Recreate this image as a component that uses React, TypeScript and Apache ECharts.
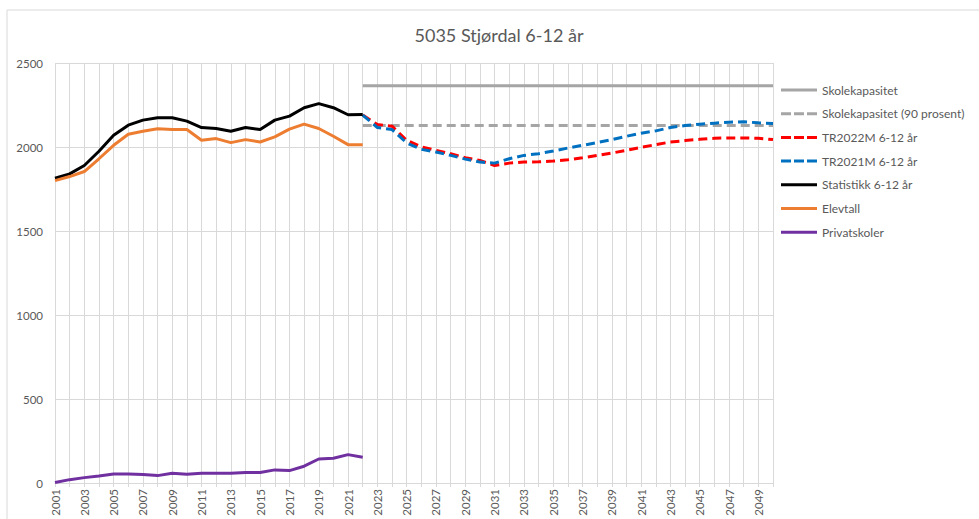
import React, { useEffect, useRef } from "react";
import * as echarts from "echarts";

const years = [
  "2001", "2002", "2003", "2004", "2005", "2006", "2007", "2008", "2009", "2010",
  "2011", "2012", "2013", "2014", "2015", "2016", "2017", "2018", "2019", "2020",
  "2021", "2022", "2023", "2024", "2025", "2026", "2027", "2028", "2029", "2030",
  "2031", "2032", "2033", "2034", "2035", "2036", "2037", "2038", "2039", "2040",
  "2041", "2042", "2043", "2044", "2045", "2046", "2047", "2048", "2049", "2050",
];

const histYears = years.slice(0, 22); // 2001-2022
const projYears = years.slice(21); // 2022-2050

const statistikk = [1814, 1840, 1890, 1975, 2070, 2130, 2160, 2174, 2174, 2154, 2116, 2110, 2094, 2116, 2104, 2160, 2184, 2234, 2258, 2234, 2192, 2194];
const elevtall = [1800, 1824, 1854, 1930, 2010, 2076, 2094, 2108, 2104, 2104, 2040, 2050, 2026, 2044, 2030, 2060, 2106, 2136, 2110, 2064, 2014, 2014];
const privatskoler = [3, 20, 32, 42, 54, 54, 50, 44, 58, 52, 58, 58, 58, 62, 62, 78, 74, 100, 143, 147, 169, 153];

const tr2022 = [2190, 2134, 2124, 2040, 2000, 1980, 1960, 1936, 1920, 1890, 1904, 1910, 1912, 1916, 1924, 1936, 1950, 1964, 1980, 1998, 2014, 2030, 2038, 2046, 2052, 2054, 2054, 2052, 2044];
const tr2021 = [2190, 2116, 2104, 2024, 1986, 1970, 1950, 1928, 1910, 1904, 1930, 1950, 1960, 1976, 1994, 2010, 2026, 2044, 2064, 2082, 2096, 2116, 2128, 2136, 2142, 2148, 2150, 2144, 2140];

const kapasitetYears = ["2022", "2050"];
const kapasitet = [2365, 2365];
const kapasitet90 = [2128, 2128];

const yTicks = { min: 0, max: 2500, interval: 500 };

const FONT = "Lato";
const TEXT = "#595959";
const GRID = "#D9D9D9";

const SOLID_ICON = "path://M0 0h36v3H0z";
const DASH_ICON = "path://M0 0h10v3H0zM13 0h10v3H13zM26 0h10v3H26z";

const pairs = (xs: string[], vs: number[]) => xs.map((x, i) => [x, vs[i]]);

export default function App() {
  const ref = useRef<HTMLDivElement>(null);
  useEffect(() => {
    if (!ref.current) return;
    const chart = echarts.init(ref.current, undefined, { renderer: "svg" });
    const dash = [9, 5];
    const line = (name: string, data: any[], color: string, dashed: boolean) => ({
      name,
      type: "line",
      data,
      symbol: "none",
      showSymbol: false,
      lineStyle: { color, width: 3, type: dashed ? dash : "solid" },
      itemStyle: { color },
      emphasis: { disabled: true },
    });
    const legendItem = (name: string, dashed: boolean) => ({
      name,
      icon: dashed ? DASH_ICON : SOLID_ICON,
    });
    chart.setOption({
      animation: false,
      backgroundColor: "#fff",
      textStyle: { fontFamily: FONT },
      title: {
        text: "5035 Stjørdal 6-12 år",
        left: 494,
        top: 21,
        textAlign: "center",
        textStyle: { fontFamily: FONT, fontSize: 18, fontWeight: "normal", color: TEXT },
      },
      graphic: [
        {
          type: "rect",
          shape: { x: 7, y: 10, width: 990, height: 530 },
          style: { fill: "none", stroke: "#D9D9D9", lineWidth: 1 },
          silent: true,
          z: -10,
        },
      ],
      legend: {
        orient: "vertical",
        left: 781,
        top: 84,
        padding: 0,
        itemWidth: 36,
        itemHeight: 3,
        itemGap: 11.7,
        textStyle: { fontFamily: FONT, fontSize: 12, color: TEXT, padding: [0, 0, 0, 0] },
        data: [
          legendItem("Skolekapasitet", false),
          legendItem("Skolekapasitet (90 prosent)", true),
          legendItem("TR2022M 6-12 år", true),
          legendItem("TR2021M 6-12 år", true),
          legendItem("Statistikk 6-12 år", false),
          legendItem("Elevtall", false),
          legendItem("Privatskoler", false),
        ],
      },
      grid: { left: 55, right: 206, top: 63, bottom: 36 },
      xAxis: {
        type: "category",
        data: years,
        boundaryGap: false,
        axisLine: { show: true, lineStyle: { color: GRID } },
        axisTick: { show: true, interval: 0, length: 4, lineStyle: { color: GRID } },
        splitLine: { show: true, interval: 0, lineStyle: { color: GRID, width: 1 } },
        axisLabel: {
          interval: 1,
          rotate: 90,
          margin: 6,
          fontFamily: FONT,
          fontSize: 11.5,
          color: TEXT,
        },
      },
      yAxis: {
        type: "value",
        min: yTicks.min,
        max: yTicks.max,
        interval: yTicks.interval,
        axisLine: { show: false },
        axisTick: { show: false },
        splitLine: { show: true, lineStyle: { color: GRID, width: 1 } },
        axisLabel: {
          margin: 12,
          fontFamily: FONT,
          fontSize: 11.5,
          color: TEXT,
          formatter: (v: number) => String(v),
        },
      },
      series: [
        line("Skolekapasitet", pairs(kapasitetYears, kapasitet), "#A5A5A5", false),
        line("Skolekapasitet (90 prosent)", pairs(kapasitetYears, kapasitet90), "#A5A5A5", true),
        line("TR2022M 6-12 år", pairs(projYears, tr2022), "#FF0000", true),
        line("TR2021M 6-12 år", pairs(projYears, tr2021), "#0070C0", true),
        line("Statistikk 6-12 år", pairs(histYears, statistikk), "#000000", false),
        line("Elevtall", pairs(histYears, elevtall), "#ED7D31", false),
        line("Privatskoler", pairs(histYears, privatskoler), "#7030A0", false),
      ],
    });
    return () => chart.dispose();
  }, []);
  return (
    <div
      ref={ref}
      style={{ position: "fixed", left: 0, top: 0, width: 979, height: 519, background: "#fff" }}
    />
  );
}
